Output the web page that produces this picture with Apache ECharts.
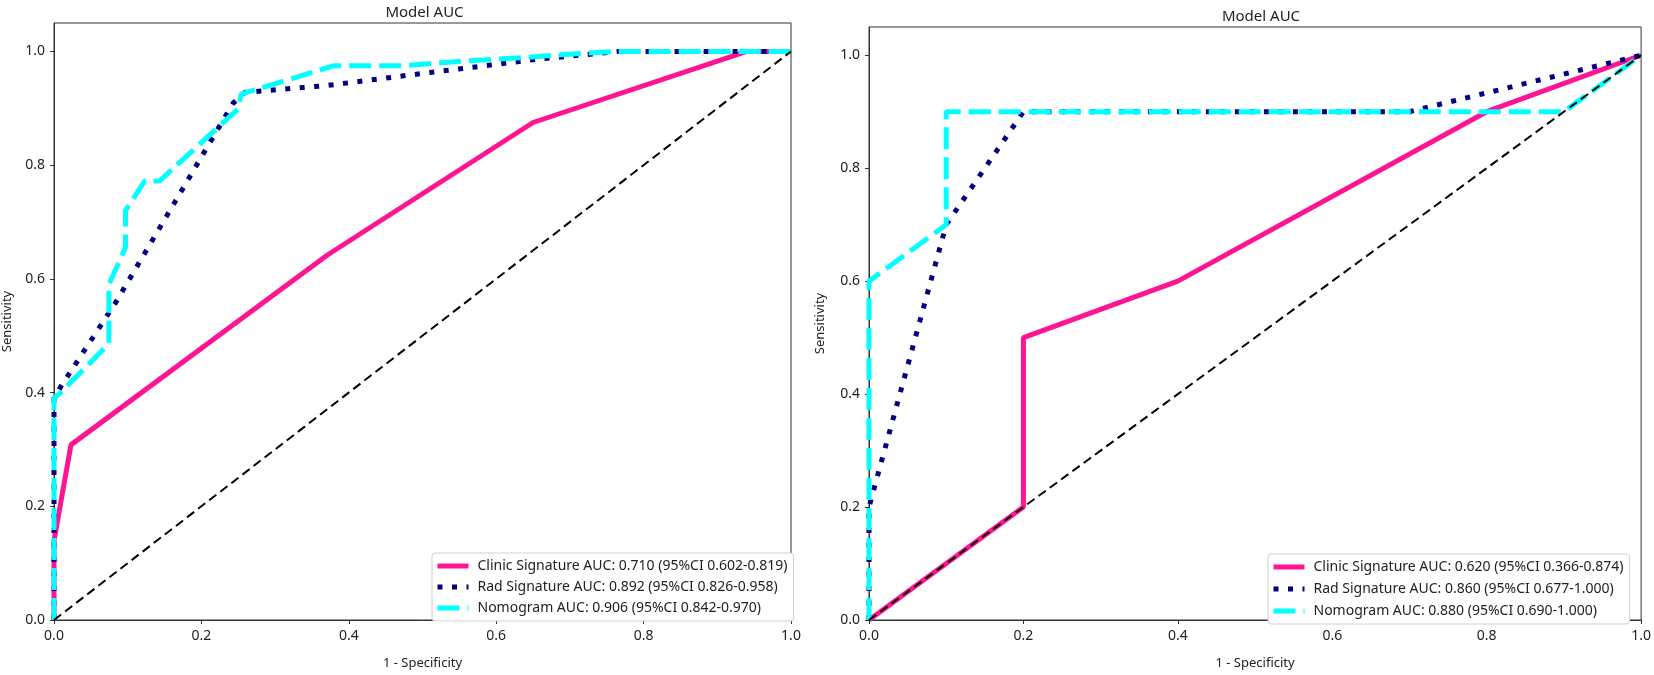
<!DOCTYPE html>
<html>
<head>
<meta charset="utf-8">
<script src="https://cdn.jsdelivr.net/npm/echarts@6/dist/echarts.min.js"></script>
<style>
  html, body { margin: 0; padding: 0; background: #fff; }
  #roc { width: 1654px; height: 675px; }
</style>
</head>
<body>
<div id="roc"></div>
<script>
// tick labels (both axes)
var ticks = [0, 0.2, 0.4, 0.6, 0.8, 1.0];

// left panel
var leftNames = [
    'Clinic Signature AUC: 0.710 (95%CI 0.602-0.819)',
    'Rad Signature AUC: 0.892 (95%CI 0.826-0.958)',
    'Nomogram AUC: 0.906 (95%CI 0.842-0.970)'
];
var leftClinicX = [0, 0, 0.023, 0.371, 0.65, 0.94, 1];
var leftClinicY = [0, 0.139, 0.308, 0.642, 0.875, 1, 1];
var leftRadX = [0, 0, 0.009, 0.084, 0.243, 0.259, 0.37, 0.48, 0.654, 0.766, 1];
var leftRadY = [0, 0.39, 0.41, 0.559, 0.909, 0.928, 0.94, 0.958, 0.986, 1, 1];
var leftNomoX = [0, 0, 0.009, 0.0745, 0.0745, 0.097, 0.097, 0.123, 0.143, 0.25, 0.254, 0.38, 0.474, 0.555, 0.636, 0.699, 0.762, 1];
var leftNomoY = [0, 0.39, 0.40, 0.486, 0.59, 0.655, 0.72, 0.772, 0.772, 0.899, 0.925, 0.975, 0.975, 0.983, 0.989, 0.995, 1, 1];

// right panel
var rightNames = [
    'Clinic Signature AUC: 0.620 (95%CI 0.366-0.874)',
    'Rad Signature AUC: 0.860 (95%CI 0.677-1.000)',
    'Nomogram AUC: 0.880 (95%CI 0.690-1.000)'
];
var rightClinicX = [0, 0.2, 0.2, 0.4, 0.8, 1];
var rightClinicY = [0, 0.2, 0.5, 0.6, 0.9, 1];
var rightRadX = [0, 0, 0.1, 0.2, 0.7, 1];
var rightRadY = [0, 0.2, 0.7, 0.9, 0.9, 1];
var rightNomoX = [0, 0, 0.1, 0.1, 0.9, 1];
var rightNomoY = [0, 0.6, 0.7, 0.9, 0.9, 1];

var chanceX = [0, 1];
var chanceY = [0, 1];

function pairs(xs, ys) {
    return xs.map(function (x, i) { return [x, ys[i]]; });
}

var font = 'Noto Sans';
var colors = ['#ff1493', '#000080', '#00ffff'];

function axisX(idx) {
    return {
        type: 'value', gridIndex: idx, min: 0, max: 1, interval: 0.2,
        name: '1 - Specificity', nameLocation: 'middle', nameGap: 37,
        nameTextStyle: { fontFamily: font, fontSize: 13, color: '#222' },
        axisLine: { show: true, lineStyle: { color: '#333', width: 1 } },
        axisTick: { show: true, inside: false, length: 4, lineStyle: { color: '#333' } },
        axisLabel: { fontFamily: font, fontSize: 14, color: '#222', margin: 9,
            formatter: function (v) { return v.toFixed(1); } },
        splitLine: { show: false }
    };
}
function axisY(idx, gap) {
    return {
        type: 'value', gridIndex: idx, min: 0, max: 1.05, interval: 0.2,
        name: 'Sensitivity', nameLocation: 'middle', nameGap: gap, nameRotate: 90,
        nameTextStyle: { fontFamily: font, fontSize: 13, color: '#222' },
        axisLine: { show: true, lineStyle: { color: '#333', width: 1 } },
        axisTick: { show: true, inside: false, length: 4, lineStyle: { color: '#333' } },
        axisLabel: { fontFamily: font, fontSize: 14, color: '#222', margin: 9, showMaxLabel: false,
            formatter: function (v) { return v.toFixed(1); } },
        splitLine: { show: false }
    };
}

function curve(name, idx, data, k) {
    var ls = { color: colors[k], width: 5 };
    if (k === 1) { ls.type = [5, 9.5]; }
    if (k === 2) { ls.type = [22, 8]; }
    return {
        name: name, type: 'line', xAxisIndex: idx, yAxisIndex: idx,
        data: data, symbol: 'none', clip: false, silent: true,
        lineStyle: ls, itemStyle: { color: colors[k] }
    };
}
function chance(idx) {
    return {
        name: 'chance', type: 'line', xAxisIndex: idx, yAxisIndex: idx,
        data: pairs(chanceX, chanceY), symbol: 'none', clip: false, silent: true,
        lineStyle: { color: '#000', width: 2, type: [9, 5] }
    };
}
function legend(names, left, top, gap) {
    return {
        data: names, orient: 'vertical', left: left, top: top,
        itemWidth: 31, itemHeight: 6, itemGap: gap, selectedMode: false,
        padding: [6, 6, 6, 3],
        itemStyle: { opacity: 0 },
        lineStyle: { width: 5 },
        backgroundColor: '#fff', borderColor: '#d0d0d0', borderWidth: 1, borderRadius: 3,
        textStyle: { fontFamily: font, fontSize: 14, color: '#222', padding: [0, 0, 0, 4] }
    };
}

var myChart = echarts.init(document.getElementById('roc'));
var option = {
    animation: false,
    title: [
        { text: 'Model AUC', left: 419.5, top: 0, textAlign: 'center',
          textStyle: { fontFamily: font, fontSize: 15, fontWeight: 'normal', color: '#222' } },
        { text: 'Model AUC', left: 1256, top: 4, textAlign: 'center',
          textStyle: { fontFamily: font, fontSize: 15, fontWeight: 'normal', color: '#222' } }
    ],
    grid: [
        { left: 48, right: 863, top: 23, bottom: 47, show: true, borderColor: '#333', borderWidth: 1 },
        { left: 869, right: 11, top: 27, bottom: 47, show: true, borderColor: '#333', borderWidth: 1 }
    ],
    legend: [
        legend(leftNames, 432, 553, 7),
        legend(rightNames, 1268, 554, 8)
    ],
    xAxis: [axisX(0), axisX(1)],
    yAxis: [axisY(0, 40), axisY(1, 42)],
    series: [
        curve(leftNames[0], 0, pairs(leftClinicX, leftClinicY), 0),
        curve(leftNames[1], 0, pairs(leftRadX, leftRadY), 1),
        curve(leftNames[2], 0, pairs(leftNomoX, leftNomoY), 2),
        chance(0),
        curve(rightNames[0], 1, pairs(rightClinicX, rightClinicY), 0),
        curve(rightNames[1], 1, pairs(rightRadX, rightRadY), 1),
        curve(rightNames[2], 1, pairs(rightNomoX, rightNomoY), 2),
        chance(1)
    ]
};
myChart.setOption(option);
</script>
</body>
</html>
